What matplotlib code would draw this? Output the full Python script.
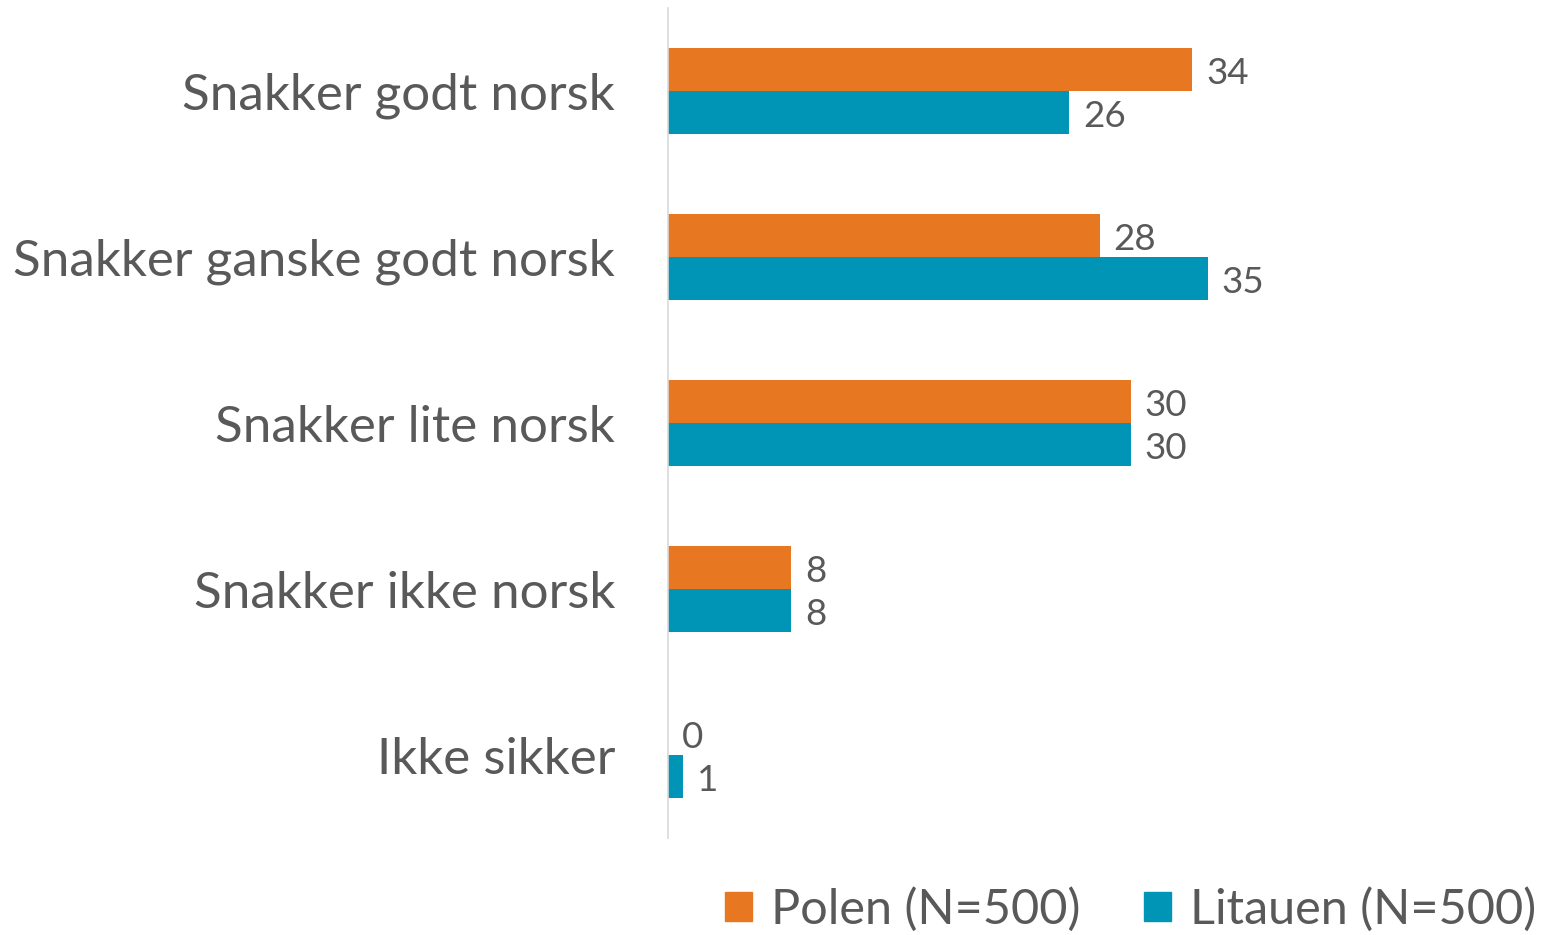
import numpy as np
import matplotlib.pyplot as plt
import matplotlib.transforms as mtransforms
from matplotlib.patches import Patch

plt.rcParams['font.family'] = ['Lato', 'DejaVu Sans']

categories = ["Snakker godt norsk", "Snakker ganske godt norsk", "Snakker lite norsk",
              "Snakker ikke norsk", "Ikke sikker"]
polen = [34, 28, 30, 8, 0]
litauen = [26, 35, 30, 8, 1]
series_names = ["Polen (N=500)", "Litauen (N=500)"]

orange = "#E87722"
teal = "#0095B6"
grey = "#595959"

fig = plt.figure(figsize=(15.42, 9.35), dpi=100)
ax = fig.add_axes([668 / 1542, 97 / 935, 870 / 1542, 830 / 935])

y = np.arange(len(categories))
h = 0.26
ax.barh(y - h / 2, polen, height=h, color=orange)
ax.barh(y + h / 2, litauen, height=h, color=teal)

# value labels right of each bar
for yi, p, l in zip(y, polen, litauen):
    ax.text(p + 0.9, yi - h / 2 + 0.025, str(p), va='center', ha='left', fontsize=26.5, color=grey)
    ax.text(l + 0.9, yi + h / 2 + 0.025, str(l), va='center', ha='left', fontsize=26.5, color=grey)

ax.set_ylim(len(categories) - 0.5, -0.5)
ax.set_xlim(0, 870 / 15.42)
ax.set_yticks(y)
ax.set_yticklabels(categories, fontsize=36.8, color=grey)
shift = mtransforms.ScaledTranslation(0, 3 / 100, fig.dpi_scale_trans)
for lab in ax.get_yticklabels():
    lab.set_transform(lab.get_transform() + shift)
ax.tick_params(axis='y', length=0, pad=38)
ax.set_xticks([])
for s in ['top', 'right', 'bottom']:
    ax.spines[s].set_visible(False)
ax.spines['left'].set_color("#D9D9D9")
ax.spines['left'].set_linewidth(1.2)

handles = [Patch(color=orange), Patch(color=teal)]
fig.legend(handles, series_names, loc='center right', bbox_to_anchor=(1580 / 1542, 26 / 935),
           frameon=False, ncol=2, fontsize=35, labelcolor=grey,
           handlelength=0.55, handleheight=0.55, handletextpad=0.4, columnspacing=1.3)

fig.savefig("out.png", dpi=100)
